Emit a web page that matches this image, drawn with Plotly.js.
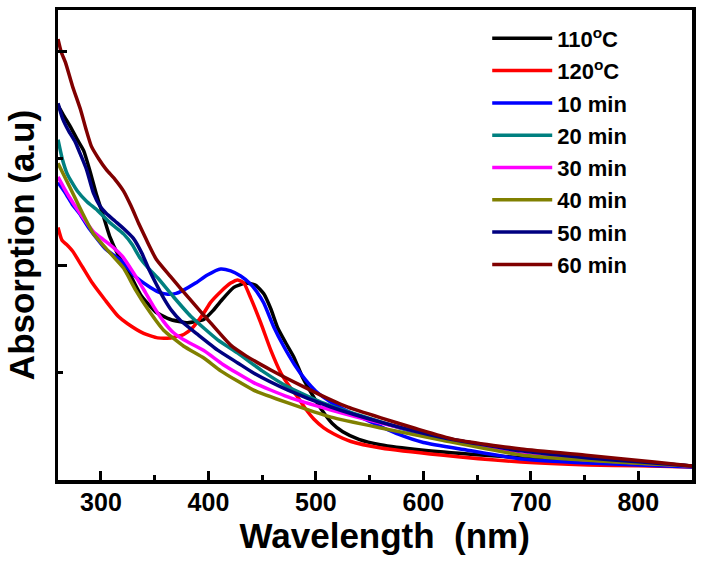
<!DOCTYPE html>
<html>
<head>
<meta charset="utf-8">
<script src="https://cdn.plot.ly/plotly-3.0.1.min.js"></script>
<style>html,body{margin:0;padding:0;background:#fff;}#chart{width:701px;height:564px;}</style>
</head>
<body>
<div id="chart"></div>
<script>
// Wavelength (nm) and absorption (a.u.)
const names = ["110<sup>o</sup>C", "120<sup>o</sup>C", "10 min", "20 min", "30 min", "40 min", "50 min", "60 min"];
const colors = ["#000000", "#FF0000", "#0000FF", "#008080", "#FF00FF", "#808000", "#000080", "#800000"];

const x110 = [260,265,271.6,278,283.8,289.4,296,302.4,308,317.3,325,337,351,364.8,380.7,395.7,404,411.4,423.6,434.7,444,451.5,458,464.5,472,479.4,488,497,505,515,525,540,560,598,650,700,750,800,850];
const y110 = [1.75,1.705,1.65,1.59,1.54,1.45,1.33,1.23,1.14,1.04,0.98,0.865,0.785,0.75,0.735,0.75,0.79,0.835,0.90,0.92,0.91,0.87,0.80,0.71,0.64,0.575,0.475,0.395,0.33,0.265,0.225,0.19,0.165,0.14,0.118,0.102,0.088,0.076,0.065];

const x120 = [260,263.7,268,273.5,282.8,292,304,316,324.8,339.7,352.7,364.8,377,385,395.7,402,411.4,420.7,427.3,433,439.4,448.7,458,467.4,475,483,490,498,507,516.8,532.6,560.5,616.5,691,753.5,800,850];
const y120 = [1.18,1.12,1.10,1.07,0.995,0.92,0.84,0.765,0.73,0.685,0.664,0.664,0.68,0.71,0.78,0.83,0.88,0.92,0.935,0.92,0.85,0.734,0.607,0.50,0.44,0.388,0.335,0.285,0.245,0.215,0.18,0.15,0.117,0.084,0.07,0.066,0.061];

const x10 = [260,267,273,280,289,304,312,320,330,337,346,355,362,370,376,388,399,411.4,420.7,430,439.4,445,451.5,460.8,470,480,490,500,515,530,545,576,600,640,691,753.5,800,850];
const y10 = [1.39,1.34,1.29,1.245,1.175,1.08,1.05,1.02,0.96,0.93,0.90,0.875,0.868,0.872,0.885,0.92,0.958,0.986,0.977,0.953,0.915,0.88,0.827,0.715,0.625,0.54,0.47,0.415,0.36,0.32,0.285,0.215,0.175,0.14,0.098,0.079,0.07,0.061];

const x20 = [260,264,268.6,278,287,296.7,308.8,321,329,336,344,352.7,367.6,383.5,408.6,427.3,450,474,504.6,542,598,650,691,750,800,850];
const y20 = [1.59,1.50,1.43,1.35,1.30,1.26,1.20,1.15,1.10,1.04,0.99,0.945,0.855,0.765,0.655,0.593,0.51,0.435,0.364,0.30,0.215,0.17,0.14,0.11,0.085,0.065];

const x30 = [260,265,270.8,280,293,303,311.7,320,330,339.7,349,358.3,367,377,395.7,413.5,442,474,514,560.5,616.5,691,750,800,850];
const y30 = [1.416,1.37,1.32,1.25,1.16,1.12,1.085,1.045,0.97,0.89,0.81,0.74,0.69,0.655,0.605,0.54,0.455,0.388,0.327,0.266,0.20,0.121,0.095,0.08,0.065];

const x40 = [260,270.8,280,286.5,293,305,314,321,332,343.4,358.3,377,395.7,411.4,442,474,514,560.5,616.5,691,750,800,850];
const y40 = [1.48,1.37,1.275,1.21,1.15,1.08,1.03,0.99,0.89,0.80,0.70,0.625,0.57,0.51,0.42,0.36,0.294,0.243,0.187,0.117,0.093,0.078,0.065];

const x50 = [260,264.2,270,276,281,286.6,293,299,305,313,321,330,338,345,352,358.3,366,374,390,408.6,427.3,442,474,514,560.5,616.5,691,753.5,800,850];
const y50 = [1.76,1.69,1.63,1.58,1.52,1.45,1.34,1.28,1.245,1.21,1.175,1.13,1.06,0.98,0.91,0.85,0.79,0.745,0.68,0.607,0.547,0.50,0.42,0.341,0.27,0.20,0.136,0.103,0.085,0.065];

const x60 = [260,263,267,273.5,281,286,291,298,305,313,321,328,335,342.5,351.6,364.8,383.5,402,420.7,435,458,488.8,514,529.8,560.5,591.3,628.6,691,753.5,815,850];
const y60 = [2.06,2.0,1.95,1.84,1.73,1.64,1.56,1.50,1.45,1.405,1.35,1.28,1.20,1.12,1.03,0.95,0.84,0.734,0.63,0.58,0.514,0.435,0.374,0.34,0.29,0.243,0.19,0.145,0.115,0.084,0.065];

const xs = [x110, x120, x10, x20, x30, x40, x50, x60];
const ys = [y110, y120, y10, y20, y30, y40, y50, y60];

const xTickVals = [300, 400, 500, 600, 700, 800];

const FONT = "Liberation Sans, Arial, sans-serif";

const traces = names.map((n, i) => ({
  x: xs[i], y: ys[i], name: n, type: "scatter", mode: "lines",
  legendgroup: "g" + i,
  line: {color: colors[i], width: 3.5, shape: "spline", smoothing: 0.5}
}));

const layout = {
  width: 701, height: 564,
  margin: {l: 58, r: 9, t: 10, b: 84},
  paper_bgcolor: "#fff", plot_bgcolor: "#fff",
  showlegend: true,
  legend: {
    x: 0.677, y: 0.984, xanchor: "left", yanchor: "top",
    bgcolor: "rgba(0,0,0,0)", borderwidth: 0,
    font: {family: FONT, size: 22, color: "#000", weight: "bold"},
    itemwidth: 60, tracegroupgap: 0.7
  },
  xaxis: {
    range: [260, 850], showgrid: false, zeroline: false,
    showline: true, linecolor: "#000", linewidth: 3.5, mirror: true,
    ticks: "inside", ticklen: 9, tickwidth: 3, tickcolor: "#000",
    tickvals: xTickVals, ticktext: xTickVals.map(String),
    ticklabelstandoff: -3,
    minor: {ticks: "inside", ticklen: 5, tickwidth: 3, tickcolor: "#000", dtick: 50, tick0: 0, showgrid: false},
    tickfont: {family: FONT, size: 25, color: "#000", weight: "bold"},
    title: {text: "&nbsp;&nbsp;Wavelength  (nm)", font: {family: FONT, size: 35, color: "#000", weight: "bold"}, standoff: 6}
  },
  yaxis: {
    range: [0, 2.196], showgrid: false, zeroline: false,
    showline: true, linecolor: "#000", linewidth: 3.5, mirror: true,
    ticks: "inside", ticklen: 9, tickwidth: 3, tickcolor: "#000",
    tickmode: "linear", tick0: 0, dtick: 1, showticklabels: false,
    minor: {ticks: "inside", ticklen: 5, tickwidth: 3, tickcolor: "#000", dtick: 0.5, tick0: 0, showgrid: false},
    title: {text: "Absorption (a.u)", font: {family: FONT, size: 35, color: "#000", weight: "bold"}, standoff: 10}
  }
};

Plotly.newPlot("chart", traces, layout, {displayModeBar: false, staticPlot: true});
</script>
</body>
</html>
